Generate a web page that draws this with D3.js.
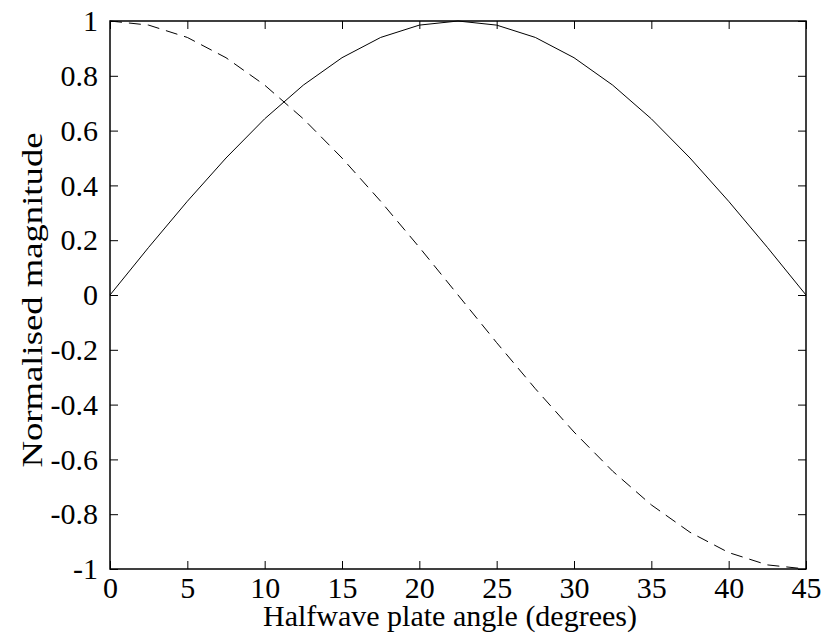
<!DOCTYPE html>
<html>
<head>
<meta charset="utf-8">
<script src="https://cdn.jsdelivr.net/npm/d3@7/dist/d3.min.js"></script>
<style>
  body { margin: 0; background: #fff; }
  svg text { font-family: "Liberation Serif", "Times New Roman", serif; fill: #000; }
</style>
</head>
<body>
<div id="chart"></div>
<script>
// plate angle (degrees), sampled every 2.5
var angles = [0, 2.5, 5, 7.5, 10, 12.5, 15, 17.5, 20, 22.5, 25, 27.5, 30, 32.5, 35, 37.5, 40, 42.5, 45];
// solid curve
var solidVals = [0, 0.174, 0.342, 0.5, 0.643, 0.766, 0.866, 0.94, 0.985, 1, 0.985, 0.94, 0.866, 0.766, 0.643, 0.5, 0.342, 0.174, 0];
// dashed curve
var dashedVals = [1, 0.985, 0.94, 0.866, 0.766, 0.643, 0.5, 0.342, 0.174, 0, -0.174, -0.342, -0.5, -0.643, -0.766, -0.866, -0.94, -0.985, -1];
var xTicks = [0, 5, 10, 15, 20, 25, 30, 35, 40, 45];
var yTicks = [-1, -0.8, -0.6, -0.4, -0.2, 0, 0.2, 0.4, 0.6, 0.8, 1];

var margin = { top: 21, right: 17, bottom: 70, left: 110 },
    width = 823 - margin.left - margin.right,
    height = 639 - margin.top - margin.bottom;

var svg = d3.select("#chart").append("svg")
    .attr("width", 823)
    .attr("height", 639)
  .append("g")
    .attr("transform", "translate(" + margin.left + "," + margin.top + ")");

var x = d3.scaleLinear().domain([0, 45]).range([0, width]);
var y = d3.scaleLinear().domain([-1, 1]).range([height, 0]);

var fmt = function(d) { return d3.format("")(d).replace("−", "-"); };

// bottom & left axes with labels, ticks inward
svg.append("g")
    .attr("transform", "translate(0," + height + ")")
    .call(d3.axisBottom(x).tickValues(xTicks).tickSize(-8).tickPadding(8).tickFormat(fmt));
svg.append("g")
    .call(d3.axisLeft(y).tickValues(yTicks).tickSize(-8).tickPadding(12).tickFormat(fmt));
// top & right ticks only
svg.append("g")
    .call(d3.axisTop(x).tickValues(xTicks).tickSize(-8).tickFormat(""));
svg.append("g")
    .attr("transform", "translate(" + width + ",0)")
    .call(d3.axisRight(y).tickValues(yTicks).tickSize(-8).tickFormat(""));

svg.selectAll(".domain").remove();
svg.selectAll("g").attr("font-family", null).attr("font-size", null);
svg.selectAll(".tick line").attr("stroke", "#000").attr("stroke-width", 1);
svg.selectAll(".tick text").style("font-size", "30px");

svg.append("rect")
    .attr("width", width)
    .attr("height", height)
    .attr("fill", "none")
    .attr("stroke", "#000")
    .attr("stroke-width", 1.5);

var line = function(vals) {
  return d3.line()
      .x(function(d, i) { return x(angles[i]); })
      .y(function(d) { return y(d); })(vals);
};

svg.append("path")
    .attr("d", line(solidVals))
    .attr("fill", "none")
    .attr("stroke", "#000")
    .attr("stroke-width", 1);

svg.append("path")
    .attr("d", line(dashedVals))
    .attr("fill", "none")
    .attr("stroke", "#000")
    .attr("stroke-width", 1)
    .attr("stroke-dasharray", "12,7");

svg.append("text")
    .attr("x", 340)
    .attr("y", height + 57)
    .attr("text-anchor", "middle")
    .style("font-size", "30px")
    .text("Halfwave plate angle (degrees)");

svg.append("text")
    .attr("transform", "translate(" + (-68) + "," + 279 + ") rotate(-90)")
    .attr("text-anchor", "middle")
    .attr("textLength", 335)
    .attr("lengthAdjust", "spacingAndGlyphs")
    .style("font-size", "30px")
    .text("Normalised magnitude");
</script>
</body>
</html>
